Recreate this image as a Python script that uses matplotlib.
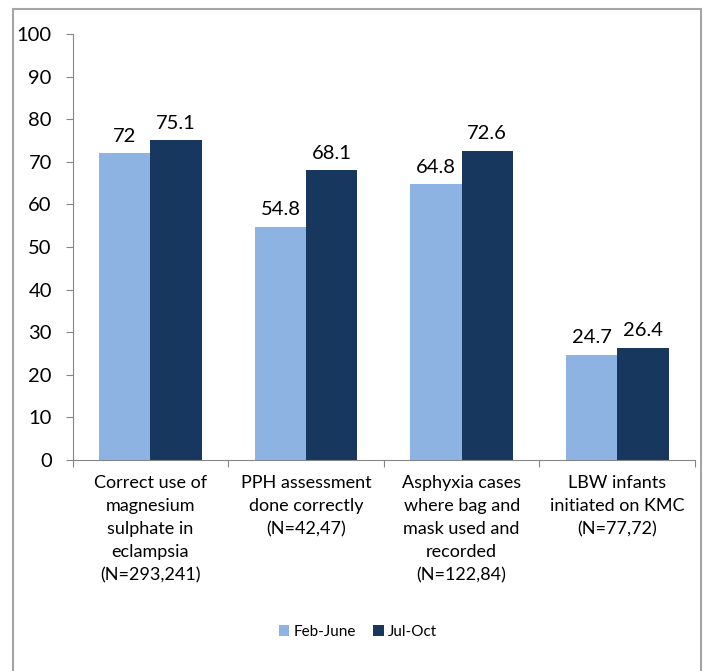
import numpy as np
import matplotlib.pyplot as plt
from matplotlib.patches import Rectangle

categories = [
    "Correct use of\nmagnesium\nsulphate in\neclampsia\n(N=293,241)",
    "PPH assessment\ndone correctly\n(N=42,47)",
    "Asphyxia cases\nwhere bag and\nmask used and\nrecorded\n(N=122,84)",
    "LBW infants\ninitiated on KMC\n(N=77,72)",
]
feb_june = [72, 54.8, 64.8, 24.7]
jul_oct = [75.1, 68.1, 72.6, 26.4]
series_names = ["Feb-June", "Jul-Oct"]

light = "#8DB3E2"
dark = "#17375E"
axis_grey = "#868686"

plt.rcParams["font.family"] = ["Lato", "DejaVu Sans"]

fig = plt.figure(figsize=(7.06, 6.71), dpi=100)
ax = fig.add_axes([72.7 / 706, 1 - 460 / 671, (695 - 72.7) / 706, (460 - 34) / 671])

x = np.arange(len(categories))
w = 0.33
b1 = ax.bar(x - w / 2, feb_june, w, color=light, label=series_names[0])
b2 = ax.bar(x + w / 2, jul_oct, w, color=dark, label=series_names[1])

for bars, vals in ((b1, feb_june), (b2, jul_oct)):
    for bar, v in zip(bars, vals):
        ax.annotate(f"{v:g}", (bar.get_x() + bar.get_width() / 2, v),
                    xytext=(0, 6), textcoords="offset points",
                    ha="center", va="bottom", fontsize=14.5)

ax.set_xlim(-0.5, len(categories) - 0.5)
ax.set_ylim(0, 100)
ax.set_yticks(np.arange(0, 101, 10))
ax.tick_params(axis="y", labelsize=14.5, length=5, color=axis_grey, pad=10)

# category labels between boundary ticks
ax.set_xticks(np.arange(len(categories) + 1) - 0.5)
ax.set_xticklabels([])
ax.tick_params(axis="x", length=5, color=axis_grey)
for i, c in enumerate(categories):
    ax.text(i, -3.5, c, ha="center", va="top", fontsize=13, linespacing=1.55)

for s in ("top", "right"):
    ax.spines[s].set_visible(False)
for s in ("left", "bottom"):
    ax.spines[s].set_color(axis_grey)

fig.legend(handles=[b1, b2], labels=series_names, loc="center",
           bbox_to_anchor=(358 / 706, 1 - 632 / 671), ncol=2, frameon=False,
           fontsize=11, handlelength=0.7, handleheight=0.7,
           handletextpad=0.3, columnspacing=1.1)

# chart-area border (bottom edge falls outside the image)
fig.patches.append(Rectangle((13 / 706, -0.01), (701 - 13) / 706, 1.01 - 9 / 671,
                             transform=fig.transFigure, fill=False,
                             edgecolor="#A6A6A6", linewidth=1.5))

fig.savefig("out.png", dpi=100)
